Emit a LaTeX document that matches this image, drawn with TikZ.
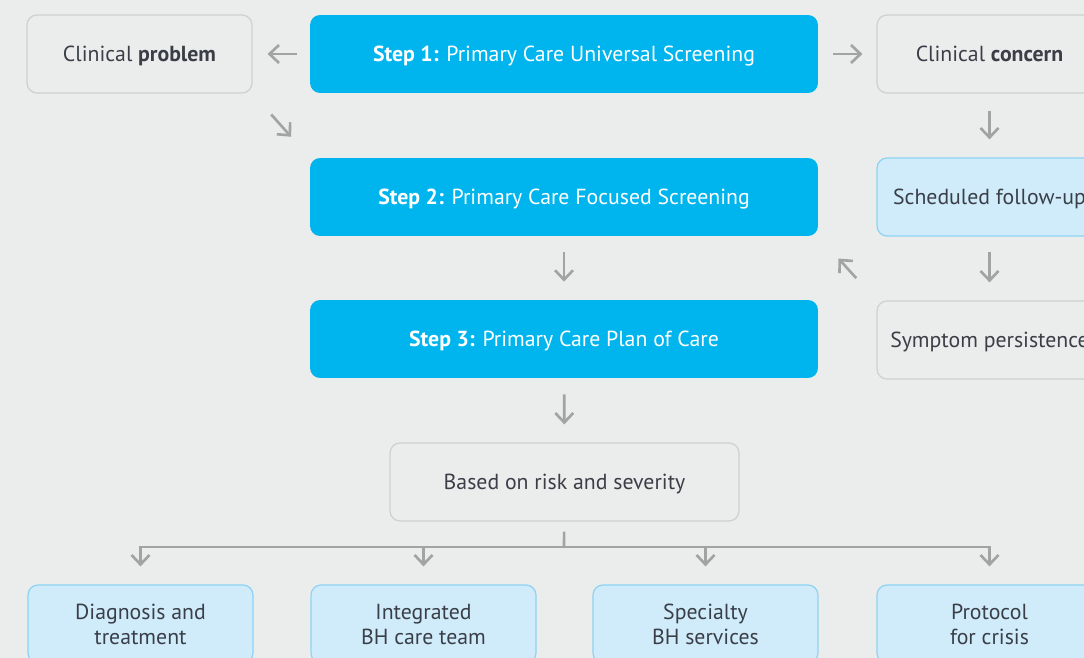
\documentclass[tikz,border=0pt]{standalone}
\usepackage{fontspec}
\setmainfont{PT Sans}
\usepackage{xcolor}
\usepackage{tikz}
\usetikzlibrary{arrows.meta}

\definecolor{bgcol}{HTML}{EBECEC}
\definecolor{stepcol}{HTML}{00B5EE}
\definecolor{greyline}{HTML}{CFD0D0}
\definecolor{paleblue}{HTML}{D0ECFB}
\definecolor{paleline}{HTML}{8DD3F3}
\definecolor{inkcol}{HTML}{3A3F47}
\definecolor{arrowcol}{HTML}{A3A3A3}

\begin{document}
\begin{tikzpicture}[x=0.02cm, y=-0.02cm,
    box/.style={rounded corners=0.2cm, minimum height=1.56cm, align=center,
        text=inkcol, font=\fontsize{12.4}{14.2}\selectfont, inner sep=0pt, text depth=0pt},
    stepbox/.style={box, fill=stepcol, text=white, minimum width=10.16cm},
    greybox/.style={box, fill=bgcol, draw=greyline, line width=0.7pt, minimum width=4.5cm},
    bluebox/.style={box, fill=paleblue, draw=paleline, line width=0.7pt, minimum width=4.5cm},
    link/.style={draw=arrowcol, line width=1.5pt},
    arr/.style={link, -{Straight Barb[length=1.9mm,width=3.6mm]}},
    ]
    % Background, cut at the picture edge
    \fill[bgcol] (0,0) rectangle (1084,658);
    \clip (0,0) rectangle (1084,658);

    % Top row
    \node[greybox] (prob) at (139.5,54) {Clinical \textbf{problem}};
    \node[stepbox] (step1) at (564,54) {\textbf{Step 1:} Primary Care Universal Screening};
    \node[greybox] (concern) at (989.5,54) {Clinical \textbf{concern}};

    % Middle rows
    \node[stepbox] (step2) at (564,197) {\textbf{Step 2:} Primary Care Focused Screening};
    \node[bluebox] (follow) at (989.5,197) {Scheduled follow-up};
    \node[stepbox] (step3) at (564,339) {\textbf{Step 3:} Primary Care Plan of Care};
    \node[greybox] (persist) at (989.5,340) {Symptom persistence};

    \node[greybox, minimum width=6.98cm] (risk) at (564.5,482) {Based on risk and severity};

    % Bottom row of options
    \foreach \name/\x/\txt in {diag/140.5/Diagnosis and\\treatment,
            team/423.5/Integrated\\BH care team,
            spec/705.5/Specialty\\BH services,
            crisis/989.5/Protocol\\for crisis} {
        \node[bluebox] (\name) at (\x,624) {\txt};
    }

    % Arrows round step 1
    \draw[arr, shorten <=0.26cm, shorten >=0.3cm] (step1) -- (prob);
    \draw[arr, shorten <=0.3cm, shorten >=0.28cm] (step1) -- (concern);
    \draw[arr, shorten <=0.56cm, shorten >=0.56cm] (prob.south east) -- (step2.north west);

    % Right column
    \draw[arr, shorten <=0.34cm, shorten >=0.36cm] (concern) -- (follow);
    \draw[arr, shorten <=0.3cm, shorten >=0.36cm] (follow) -- (persist);
    \draw[arr, shorten <=0.6cm, shorten >=0.6cm] (persist.north west) -- (step2.south east);

    % Centre column
    \draw[arr, shorten <=0.32cm, shorten >=0.36cm] (step2) -- (step3);
    \draw[arr, shorten <=0.32cm, shorten >=0.36cm] (step3) -- (risk);

    % Split to the four options
    \coordinate (split) at (564,547);
    \draw[link, shorten <=0.2cm] (risk) -- (split);
    \draw[link, line cap=rect] (diag |- split) -- (crisis |- split);
    \foreach \name in {diag,team,spec,crisis}
        \draw[arr, shorten >=0.36cm] (\name |- split) -- (\name);
\end{tikzpicture}
\end{document}
